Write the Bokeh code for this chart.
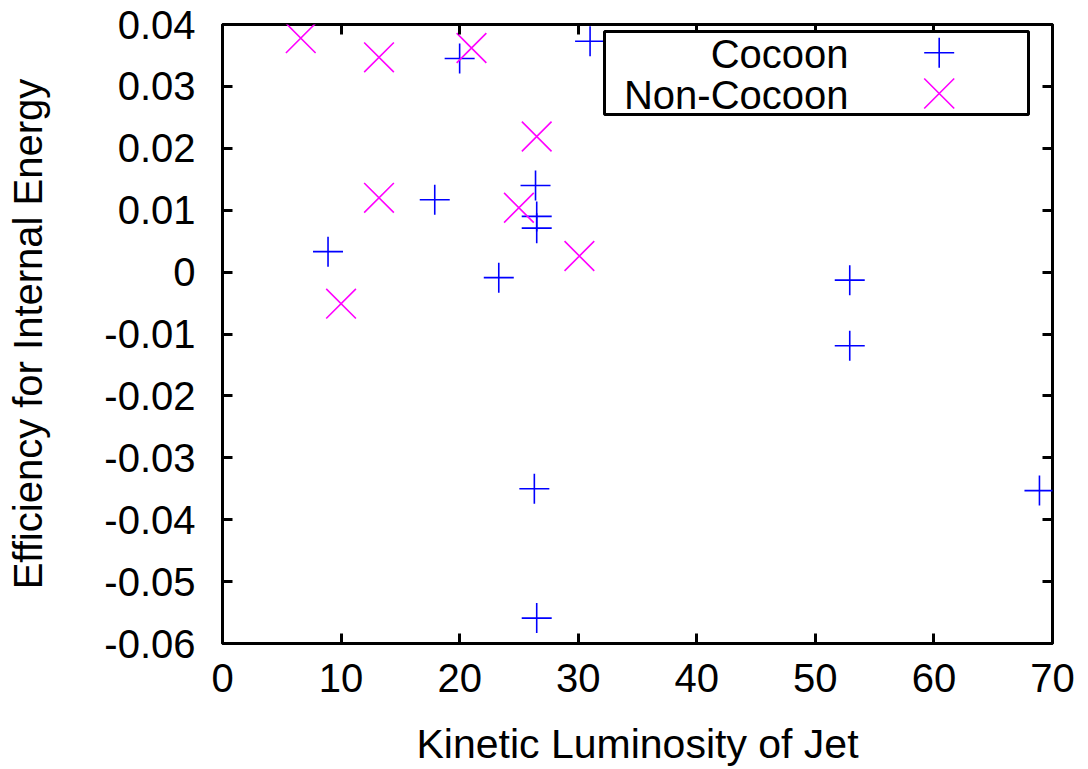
from bokeh.plotting import figure
from bokeh.models import (Range1d, FixedTicker, LinearAxis, BoxAnnotation, Label,
                          PolyAnnotation)
from bokeh.embed import file_html
from bokeh.resources import INLINE

# ---- data ----
cocoon_x = [20.0, 31.0, 17.9, 8.9, 26.4, 26.5, 26.5, 23.3, 52.9, 52.9, 26.3, 26.5, 68.9]
cocoon_y = [0.0345, 0.0373, 0.0117, 0.0033, 0.0140, 0.0090, 0.0071, -0.0009,
            -0.0013, -0.0119, -0.0350, -0.0559, -0.0353]
noncocoon_x = [6.6, 13.2, 21.0, 26.5, 13.2, 25.0, 30.1, 10.0]
noncocoon_y = [0.0378, 0.0347, 0.0362, 0.0219, 0.0120, 0.0104, 0.0026, -0.0051]

x_ticks = [0, 10, 20, 30, 40, 50, 60, 70]
x_tick_labels = ["0", "10", "20", "30", "40", "50", "60", "70"]
y_ticks = [0.04, 0.03, 0.02, 0.01, 0.0, -0.01, -0.02, -0.03, -0.04, -0.05, -0.06]
y_tick_labels = ["0.04", "0.03", "0.02", "0.01", "0", "-0.01", "-0.02", "-0.03",
                 "-0.04", "-0.05", "-0.06"]
series_names = ["Cocoon", "Non-Cocoon"]

FONT = "Liberation Sans"
FS = "40px"
BLUE = "#0000ff"
MAGENTA = "#ff00ff"

W, H = 1088, 769
FL, FR, FT, FB = 222, 1052, 24, 645

p = figure(width=W, height=H, output_backend="svg", toolbar_location=None,
           x_range=Range1d(0, 70), y_range=Range1d(-0.06, 0.04),
           min_border_left=FL, min_border_right=W - FR,
           min_border_top=FT, min_border_bottom=H - FB,
           x_axis_location=None, y_axis_location=None)
p.grid.visible = False
p.outline_line_color = "black"
p.outline_line_width = 3
p.background_fill_color = "white"
p.border_fill_color = "white"

def style_axis(ax, labels=True):
    ax.axis_line_color = None
    ax.major_tick_in = 10
    ax.major_tick_out = 0
    ax.major_tick_line_width = 3
    ax.major_tick_line_color = "black"
    ax.minor_tick_line_color = None
    if labels:
        ax.major_label_text_font = FONT
        ax.major_label_text_font_size = FS
        ax.major_label_text_color = "black"
        ax.axis_label_text_font = FONT
        ax.axis_label_text_font_size = FS
        ax.axis_label_text_font_style = "normal"
        ax.axis_label_text_color = "black"
    else:
        ax.major_label_text_font_size = "0px"
        ax.major_label_text_color = None

xb = LinearAxis(ticker=FixedTicker(ticks=x_ticks), axis_label="Kinetic Luminosity of Jet")
xb.major_label_overrides = {t: s for t, s in zip(x_ticks, x_tick_labels)}
style_axis(xb)
xb.axis_label_text_font_size = "41px"
xb.major_label_standoff = 20
xb.axis_label_standoff = 26
p.add_layout(xb, "below")

yl = LinearAxis(ticker=FixedTicker(ticks=y_ticks), axis_label="Efficiency for Internal Energy")
yl.major_label_overrides = {t: s for t, s in zip(y_ticks, y_tick_labels)}
style_axis(yl)
yl.major_label_standoff = 27
yl.axis_label_standoff = 51
p.add_layout(yl, "left")

xt = LinearAxis(ticker=FixedTicker(ticks=x_ticks))
style_axis(xt, labels=False)
p.add_layout(xt, "above")
yr = LinearAxis(ticker=FixedTicker(ticks=y_ticks))
style_axis(yr, labels=False)
p.add_layout(yr, "right")

p.scatter(cocoon_x, cocoon_y, marker="cross", size=30, line_color=BLUE, line_width=1.6)
p.scatter(noncocoon_x, noncocoon_y, marker="x", size=42, line_color=MAGENTA, line_width=1.6)

# ---- legend (text right-aligned, sample to the right), frame screen units ----
def sx(px):
    return px - FL

def sy(py):
    return FB - py

p.add_layout(BoxAnnotation(left=sx(604), right=sx(1028), top=sy(33), bottom=sy(116),
                           left_units="screen", right_units="screen",
                           top_units="screen", bottom_units="screen",
                           fill_color="white", fill_alpha=1.0,
                           line_color="black", line_alpha=1.0, line_width=3))
for i, name in enumerate(series_names):
    p.add_layout(Label(x=sx(848), y=sy(55.5 + 41 * i), x_units="screen", y_units="screen",
                       text=name, text_align="right", text_baseline="alphabetic",
                       text_font=FONT, text_font_size=FS, text_color="black"))

cx, cy, r = sx(938.7), sy(54.3), 15
p.add_layout(PolyAnnotation(xs=[cx - r, cx + r, cx, cx, cx, cx],
                            ys=[cy, cy, cy, cy + r, cy - r, cy],
                            xs_units="screen", ys_units="screen",
                            fill_alpha=0, line_color=BLUE, line_alpha=1.0, line_width=1.6))
cy2 = sy(95)
p.add_layout(PolyAnnotation(xs=[cx - r, cx + r, cx, cx - r, cx + r, cx],
                            ys=[cy2 - r, cy2 + r, cy2, cy2 + r, cy2 - r, cy2],
                            xs_units="screen", ys_units="screen",
                            fill_alpha=0, line_color=MAGENTA, line_alpha=1.0, line_width=1.6))

open("out.html", "w").write(file_html(p, INLINE))
